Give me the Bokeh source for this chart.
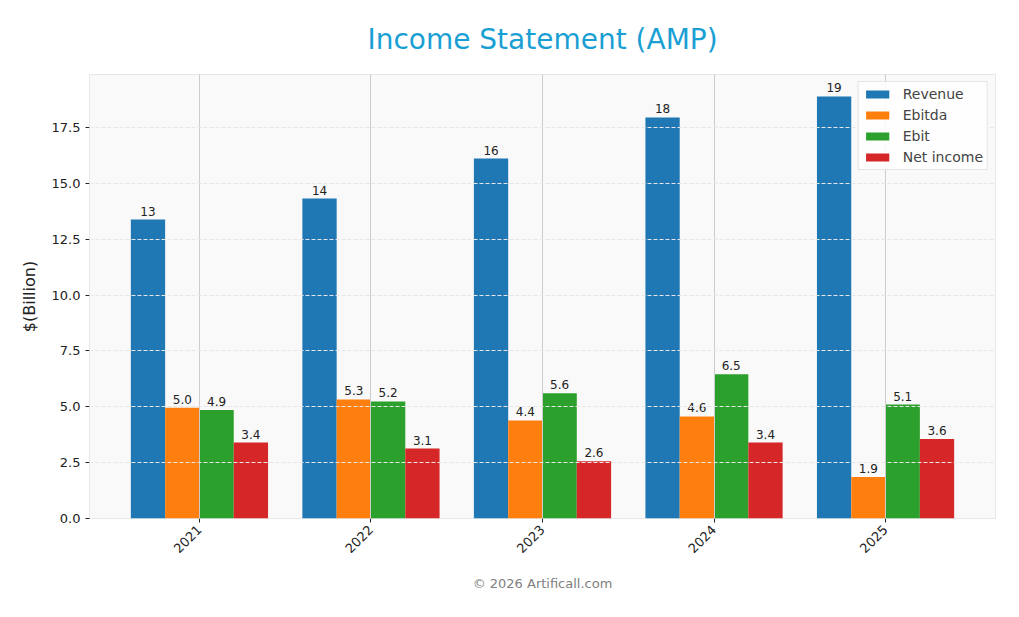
import numpy as np
from bokeh.plotting import figure
from bokeh.models import (ColumnDataSource, FixedTicker, Range1d, Legend, LegendItem,
                          Title, SingleIntervalTicker, CustomJSTickFormatter)
from bokeh.core.properties import value
from bokeh.embed import file_html
from bokeh.resources import INLINE

years = ["2021", "2022", "2023", "2024", "2025"]
revenue = [13.38, 14.32, 16.11, 17.95, 18.89]
ebitda = [4.96, 5.33, 4.39, 4.57, 1.86]
ebit = [4.86, 5.24, 5.60, 6.45, 5.10]
net_income = [3.40, 3.13, 2.56, 3.40, 3.56]

series_names = ["Revenue", "Ebitda", "Ebit", "Net income"]
series_values = [revenue, ebitda, ebit, net_income]
colors = ["#1f77b4", "#ff7f0e", "#2ca02c", "#d62728"]
offsets = [-0.3, -0.1, 0.1, 0.3]
bar_w = 0.2

FONT = "DejaVu Sans"

p = figure(width=1003, height=603, output_backend="svg", toolbar_location=None,
           x_range=Range1d(-0.641, 4.641), y_range=Range1d(0, 19.87),
           min_border_left=89, min_border_right=8, min_border_top=74, min_border_bottom=83,
           background_fill_color="#f9f9f9", border_fill_color="white")

p.outline_line_color = "#e8e8e8"

idx = np.arange(len(years))
items = []
for name, vals, col, off in zip(series_names, series_values, colors, offsets):
    labels = [f"{v:.0f}" if v >= 10 else f"{v:.1f}" for v in vals]
    src = ColumnDataSource(dict(x=idx + off, top=vals, lab=labels))
    r = p.vbar(x="x", top="top", width=bar_w, source=src, fill_color=col, line_color=None)
    p.text(x="x", y="top", text="lab", source=src, text_align="center", text_baseline="bottom",
           y_offset=-4, text_font_size="12px", text_color="#222222", text_font=value(FONT))
    items.append(LegendItem(label=name, renderers=[r]))

legend = Legend(items=items, location="top_right", label_text_font=FONT,
                label_text_font_size="14px", glyph_width=29, glyph_height=10,
                label_height=15, spacing=5, padding=4, margin=7,
                background_fill_color="white", background_fill_alpha=0.85,
                border_line_color="#cccccc", label_standoff=11)
p.add_layout(legend)

# axes
p.xaxis.ticker = FixedTicker(ticks=list(idx))
p.xaxis.major_label_overrides = {int(i): y for i, y in zip(idx, years)}
p.xaxis.major_label_orientation = np.pi / 4
p.yaxis.ticker = SingleIntervalTicker(interval=2.5)
p.yaxis.formatter = CustomJSTickFormatter(code="return tick.toFixed(1);")

for ax in (p.xaxis, p.yaxis):
    ax.axis_line_color = None
    ax.major_tick_line_color = "#222222"
    ax.major_tick_out = 4
    ax.major_tick_in = 0
    ax.minor_tick_line_color = None
    ax.major_label_text_font = FONT
    ax.major_label_text_font_size = "13px"
    ax.major_label_text_color = "#222222"

p.yaxis.axis_label = "$(Billion)"
p.yaxis.axis_label_text_font = FONT
p.yaxis.axis_label_text_font_size = "16px"
p.yaxis.axis_label_text_font_style = "normal"
p.yaxis.axis_label_text_color = "#222222"
p.yaxis.axis_label_standoff = 10

p.xgrid.ticker = FixedTicker(ticks=list(idx))
p.xgrid.grid_line_color = "#cccccc"
p.xgrid.level = "overlay"
p.ygrid.grid_line_color = "#e6e6e6"
p.ygrid.grid_line_dash = "4 2"
p.ygrid.level = "overlay"

p.title = Title(text="Income Statement (AMP)", align="center", text_font=FONT,
                text_font_size="28px", text_font_style="normal", text_color="#1a9fd4",
                standoff=38)

p.add_layout(Title(text="© 2026 Artificall.com", align="center", text_font=FONT,
                   text_font_size="13px", text_font_style="normal", text_color="#808080",
                   standoff=26),
             "below")

open("out.html", "w").write(file_html(p, INLINE))
